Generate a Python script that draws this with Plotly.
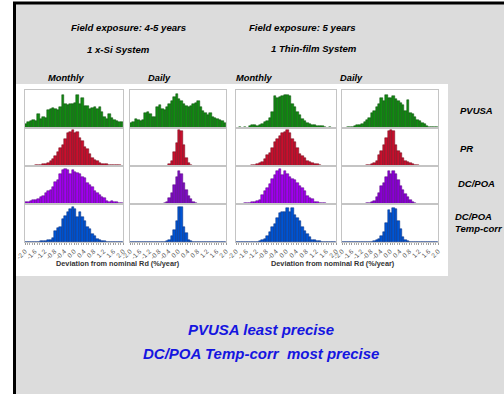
import plotly.graph_objects as go

W, H = 504, 394

# ---------------- data (bar heights, % of panel scale) ----------------
TICK_VALS = [-2.0, -1.6, -1.2, -0.8, -0.4, 0.0, 0.4, 0.8, 1.2, 1.6, 2.0]
TICK_LABELS = ["-2.0", "-1.6", "-1.2", "-0.8", "-0.4", "0.0", "0.4", "0.8", "1.2", "1.6", "2.0"]
BIN_CENTERS = [round(-1.95 + 0.1 * i, 2) for i in range(40)]

COLUMN_TITLES = ["Monthly", "Daily", "Monthly", "Daily"]
ROW_TITLES = ["PVUSA", "PR", "DC/POA", "DC/POA<br>Temp-corr"]

# x-Si, monthly
mo_xsi_pvusa = [10, 16, 18, 20, 18, 36, 24, 30, 26, 48, 50, 52, 50, 48, 55, 86, 62, 60, 62, 64,
                66, 87, 62, 79, 58, 58, 50, 52, 55, 50, 56, 42, 30, 24, 36, 26, 20, 18, 15, 16]
mo_xsi_pr = [0, 0, 0, 0, 2, 3, 3, 5, 6, 8, 12, 18, 26, 36, 48, 54, 70, 86, 90, 95,
             88, 90, 75, 66, 50, 44, 32, 22, 16, 12, 8, 6, 5, 5, 3, 3, 2, 3, 3, 0]
mo_xsi_dcpoa = [6, 5, 8, 10, 10, 12, 18, 22, 30, 34, 36, 45, 58, 62, 78, 90, 92, 90, 78, 90,
                85, 82, 80, 72, 68, 56, 50, 44, 35, 30, 24, 18, 15, 8, 6, 7, 5, 4, 3, 2]
mo_xsi_tc = [0, 0, 0, 0, 0, 0, 2, 3, 3, 4, 6, 10, 30, 36, 40, 60, 68, 80, 86, 92,
             88, 66, 78, 66, 56, 40, 34, 20, 16, 8, 6, 3, 3, 0, 0, 0, 0, 0, 0, 0]
# x-Si, daily
dy_xsi_pvusa = [14, 16, 24, 22, 18, 20, 40, 42, 38, 30, 28, 56, 60, 50, 48, 54, 62, 70, 82, 90,
                76, 70, 64, 58, 56, 58, 62, 66, 70, 54, 46, 40, 34, 40, 30, 26, 24, 22, 18, 12]
dy_xsi_pr = [0, 0, 0, 0, 0, 0, 0, 0, 0, 0, 0, 0, 0, 0, 0, 0, 4, 14, 36, 60,
             96, 92, 56, 22, 8, 3, 0, 0, 0, 0, 0, 0, 0, 0, 0, 0, 0, 0, 0, 0]
dy_xsi_dcpoa = [0, 0, 0, 0, 0, 0, 0, 0, 0, 0, 0, 0, 0, 0, 2, 6, 15, 28, 50, 70,
                88, 78, 55, 37, 20, 12, 6, 3, 0, 0, 0, 0, 0, 0, 0, 0, 0, 0, 0, 0]
dy_xsi_tc = [0, 0, 0, 0, 0, 0, 0, 0, 0, 0, 0, 0, 0, 0, 0, 2, 6, 16, 32, 56,
             93, 92, 40, 24, 5, 2, 0, 0, 0, 0, 0, 0, 0, 0, 0, 0, 0, 0, 0, 0]
# Thin-film, monthly
mo_tf_pvusa = [0, 2, 0, 3, 0, 6, 8, 8, 6, 8, 10, 16, 18, 26, 42, 85, 80, 82, 84, 86,
               88, 84, 62, 56, 42, 34, 24, 18, 12, 10, 8, 8, 6, 6, 4, 3, 0, 2, 0, 0]
mo_tf_pr = [0, 0, 0, 0, 0, 0, 3, 3, 5, 7, 10, 18, 28, 35, 48, 62, 72, 78, 86, 90,
            96, 88, 72, 62, 48, 32, 26, 20, 14, 10, 8, 6, 5, 3, 0, 0, 0, 0, 0, 0]
mo_tf_dcpoa = [0, 0, 0, 2, 2, 3, 4, 6, 8, 10, 24, 34, 42, 52, 66, 76, 86, 92, 76, 86,
               78, 70, 66, 62, 56, 48, 42, 34, 22, 16, 12, 6, 5, 3, 2, 2, 0, 0, 0, 0]
mo_tf_tc = [0, 0, 0, 0, 0, 0, 0, 0, 0, 2, 4, 8, 16, 26, 40, 48, 62, 76, 78, 80,
            90, 80, 90, 72, 62, 56, 40, 28, 20, 14, 6, 4, 3, 3, 0, 0, 0, 0, 0, 0]
# Thin-film, daily
dy_tf_pvusa = [0, 0, 2, 3, 3, 6, 8, 8, 10, 16, 22, 26, 40, 44, 56, 62, 78, 72, 86, 80,
               78, 84, 76, 72, 66, 60, 46, 74, 40, 36, 30, 22, 18, 14, 10, 6, 3, 3, 3, 2]
dy_tf_pr = [0, 0, 0, 0, 0, 0, 0, 0, 0, 0, 2, 3, 5, 8, 12, 30, 40, 55, 74, 92,
            94, 92, 56, 40, 34, 20, 14, 10, 7, 5, 3, 2, 0, 0, 0, 0, 0, 0, 0, 0]
dy_tf_dcpoa = [0, 0, 0, 0, 0, 0, 0, 0, 0, 0, 2, 3, 5, 8, 18, 30, 48, 56, 70, 88,
               80, 86, 80, 62, 48, 38, 26, 18, 10, 5, 2, 0, 0, 0, 0, 0, 0, 0, 0, 0]
dy_tf_tc = [0, 0, 0, 0, 0, 0, 0, 0, 0, 0, 0, 0, 0, 2, 4, 8, 16, 26, 50, 84,
            76, 90, 86, 54, 34, 12, 5, 3, 0, 0, 0, 0, 0, 0, 0, 0, 0, 0, 0, 0]

PANELS = [
    [mo_xsi_pvusa, mo_xsi_pr, mo_xsi_dcpoa, mo_xsi_tc],
    [dy_xsi_pvusa, dy_xsi_pr, dy_xsi_dcpoa, dy_xsi_tc],
    [mo_tf_pvusa, mo_tf_pr, mo_tf_dcpoa, mo_tf_tc],
    [dy_tf_pvusa, dy_tf_pr, dy_tf_dcpoa, dy_tf_tc],
]

# ---------------- styling ----------------
ROW_FILL = ["#138a13", "#c8102e", "#a200f0", "#0055d4"]
ROW_LINE = ["#0b4f0b", "#6e0818", "#55007e", "#002a7a"]
FILL_OVERRIDE = {(1, 2): "#7d0fc0", (3, 2): "#8a00d4"}

COL_X = [(25, 123), (130, 226), (236, 336), (342, 438)]
ROW_Y = [(90, 128), (128, 166), (166, 204), (204, 242)]

FONT = "Liberation Sans, Arial, sans-serif"
FRAME = "#c4c4c4"

fig = go.Figure()
layout = {}
for c in range(4):
    for r in range(4):
        idx = c * 4 + r + 1
        xname = "x" if idx == 1 else f"x{idx}"
        yname = "y" if idx == 1 else f"y{idx}"
        fill = FILL_OVERRIDE.get((c, r), ROW_FILL[r])
        fig.add_trace(go.Bar(
            x=BIN_CENTERS, y=PANELS[c][r], width=0.1,
            marker=dict(color=fill, line=dict(color=ROW_LINE[r], width=0.5)),
            xaxis=xname, yaxis=yname, showlegend=False, hoverinfo="skip"))
        x0, x1 = COL_X[c]
        y0, y1 = ROW_Y[r]
        bottom = (r == 3)
        xa = dict(domain=[x0 / W, x1 / W], anchor=yname, range=[-2.0, 2.0],
                  showgrid=False, zeroline=False, showline=True, mirror=True,
                  linecolor=FRAME, linewidth=1, automargin=False, fixedrange=True)
        if bottom:
            xa.update(tickmode="array", tickvals=TICK_VALS, ticktext=TICK_LABELS,
                      tickangle=-45, ticks="outside", ticklen=2, tickcolor="#999999",
                      tickfont=dict(family=FONT, size=6.5, color="#555555"),
                      minor=dict(tickmode="linear", tick0=-2.0, dtick=0.1,
                                 ticks="outside", ticklen=2, tickcolor="#aaaaaa"))
        else:
            xa.update(showticklabels=False, ticks="")
        ya = dict(domain=[1 - y1 / H, 1 - y0 / H], anchor=xname, range=[0, 100],
                  showgrid=False, zeroline=False, showline=True, mirror=True,
                  linecolor=FRAME, linewidth=1, showticklabels=False, ticks="",
                  automargin=False, fixedrange=True)
        layout["xaxis" if idx == 1 else f"xaxis{idx}"] = xa
        layout["yaxis" if idx == 1 else f"yaxis{idx}"] = ya


def px(x):
    return x / W


def py(y):
    return 1 - y / H


ann = []


def add_text(text, x, y, size, color="#000000", bold=True, italic=True, xanchor="center", align="center"):
    t = text
    if bold:
        t = f"<b>{t}</b>"
    if italic:
        t = f"<i>{t}</i>"
    ann.append(dict(text=t, x=px(x), y=py(y), xref="paper", yref="paper",
                    xanchor=xanchor, yanchor="middle", showarrow=False, align=align,
                    font=dict(family=FONT, size=size, color=color)))


add_text("Field exposure: 4-5 years", 128, 27, 9.6)
add_text("Field exposure: 5 years", 302.5, 27, 9.6)
add_text("1 x-Si System", 118, 49.5, 9.6)
add_text("1 Thin-film System", 314, 49, 9.6)
for title, cx in zip(COLUMN_TITLES, [66, 159.5, 254, 351]):
    add_text(title, cx, 78.5, 9.3)

add_text(ROW_TITLES[0], 458, 110, 9.5, xanchor="left", align="left")
add_text(ROW_TITLES[1], 458, 148, 9.5, xanchor="left", align="left")
add_text(ROW_TITLES[2], 456, 183, 9.5, xanchor="left", align="left")
add_text(ROW_TITLES[3], 453, 222.5, 9.5, xanchor="left", align="left")

add_text("Deviation from nominal Rd (%/year)", 118, 263, 7.3, color="#333333", italic=False)
add_text("Deviation from nominal Rd (%/year)", 332.5, 263, 7.3, color="#333333", italic=False)

add_text("PVUSA least precise", 261, 329, 15, color="#1515e0")
add_text("DC/POA Temp-corr&nbsp; most precise", 261, 353, 15, color="#1515e0")

shapes = [
    dict(type="rect", xref="paper", yref="paper", x0=px(14.5), x1=1.05, y0=-0.05, y1=py(3),
         fillcolor="#dcdcdc", line=dict(color="#000000", width=3), layer="below"),
    dict(type="rect", xref="paper", yref="paper", x0=px(16), x1=px(448), y0=py(276), y1=py(84),
         fillcolor="#ffffff", line=dict(width=0), layer="below"),
]

fig.update_layout(
    width=W, height=H, margin=dict(l=0, r=0, t=0, b=0),
    paper_bgcolor="#ffffff", plot_bgcolor="rgba(0,0,0,0)",
    bargap=0, barmode="overlay",
    annotations=ann, shapes=shapes, showlegend=False,
    font=dict(family=FONT),
    **layout,
)

fig.write_html("out.html", config={"displayModeBar": False},
               post_script="document.body.style.margin='0px';document.body.style.overflow='hidden';")
